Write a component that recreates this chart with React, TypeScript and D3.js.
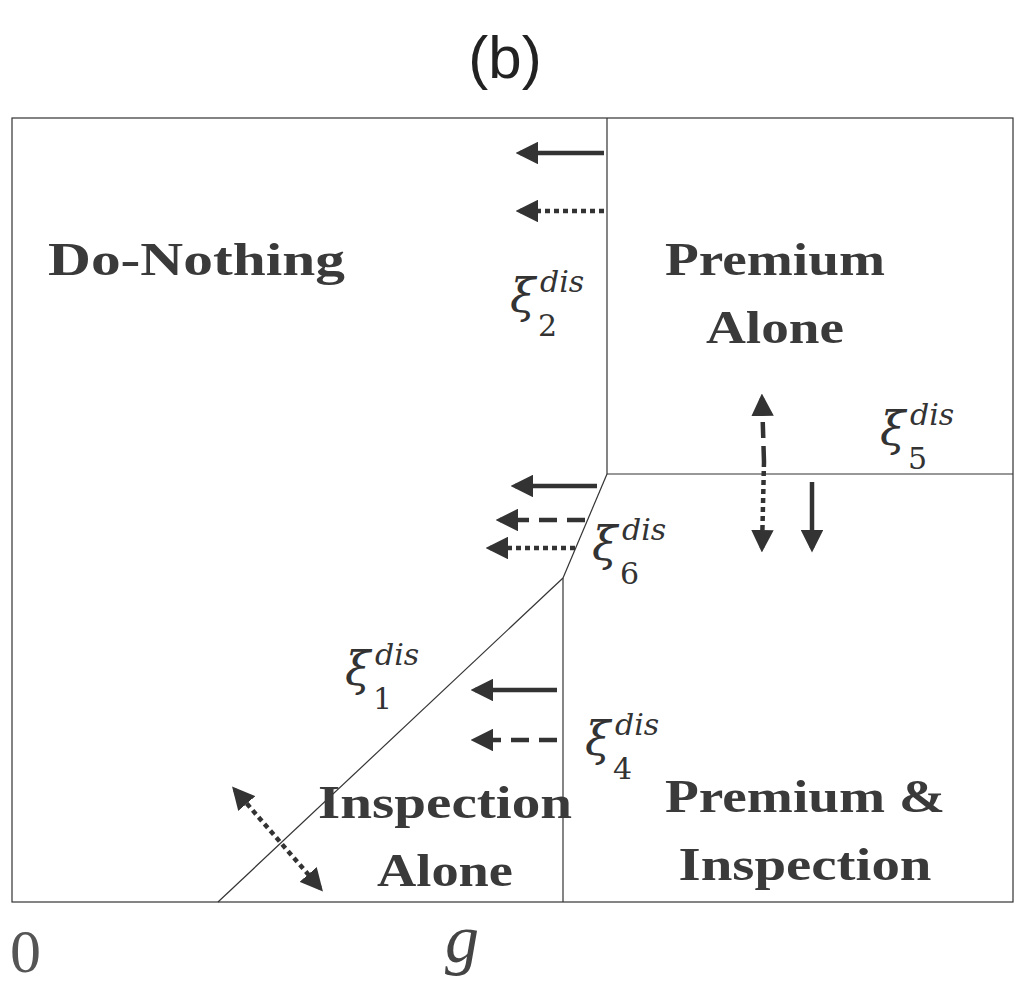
import React from 'react';
import * as d3 from 'd3';

// diagram coordinates: x 0..1001 left to right, y 0..784 bottom to top
const boundaries: [number, number][][] = [
  [[595, 784], [595, 428]],
  [[595, 428], [1001, 428]],
  [[595, 428], [551, 324]],
  [[551, 324], [551, 0]],
  [[551, 324], [206, 0]],
];

type Arrow = { pts: [number, number][]; style: 'solid' | 'dashed' | 'dotted'; both?: boolean };
const arrows: Arrow[] = [
  { pts: [[592, 749], [508, 749]], style: 'solid' },
  { pts: [[592, 691], [508, 691]], style: 'dotted' },
  { pts: [[585, 416], [503, 416]], style: 'solid' },
  { pts: [[573, 382], [488, 382]], style: 'dashed' },
  { pts: [[563, 354], [478, 354]], style: 'dotted' },
  { pts: [[545, 212], [463, 212]], style: 'solid' },
  { pts: [[545, 162], [463, 162]], style: 'dashed' },
  { pts: [[800, 420], [800, 354]], style: 'solid' },
  { pts: [[223, 112], [308, 14]], style: 'dotted', both: true },
];
// split double arrow: dashed upper half, dotted lower half
const splitArrow: [number, number][] = [[750, 504], [752, 440], [750, 354]];

const regionLabels = [
  { lines: ['Do-Nothing'], widths: [297], x: 36, y: 627, anchor: 'start' },
  { lines: ['Premium', 'Alone'], widths: [220, 138], x: 763, y: 627, anchor: 'middle' },
  { lines: ['Inspection', 'Alone'], widths: [254, 136], x: 433, y: 84, anchor: 'middle' },
  { lines: ['Premium &', 'Inspection'], widths: [280, 253], x: 793, y: 90, anchor: 'middle' },
];
const xiLabels = [
  { sub: '2', x: 498, y: 590 },
  { sub: '5', x: 868, y: 457 },
  { sub: '6', x: 580, y: 342 },
  { sub: '1', x: 333, y: 217 },
  { sub: '4', x: 573, y: 147 },
];

const x = d3.scaleLinear().domain([0, 1001]).range([12, 1013]);
const y = d3.scaleLinear().domain([0, 784]).range([902, 118]);
const line = d3.line<[number, number]>().x((d) => x(d[0])).y((d) => y(d[1]));
const dash = { solid: undefined, dashed: '18 10', dotted: '5 4' };
const ink = '#333';

export default function App() {
  return (
    <svg width={1025} height={990} style={{ display: 'block', margin: -8 }}>
      <defs>
        <marker id="ah" viewBox="0 0 10 10" refX="8" refY="5" markerWidth="5" markerHeight="5" orient="auto-start-reverse" markerUnits="strokeWidth">
          <path d="M0,0 L10,5 L0,10 Z" fill={ink} />
        </marker>
      </defs>
      <rect width={1025} height={990} fill="#fff" />
      <text x={505} y={78} textAnchor="middle" fontFamily="Liberation Sans, Arial" fontSize={60} fill="#222">(b)</text>
      <rect x={x(0)} y={y(784)} width={x(1001) - x(0)} height={y(0) - y(784)} fill="none" stroke="#333" strokeWidth={1.2} />
      {boundaries.map((b, i) => (
        <path key={i} d={line(b) || ''} fill="none" stroke="#333" strokeWidth={1.2} />
      ))}
      {arrows.map((a, i) => (
        <path key={i} d={line(a.pts) || ''} fill="none" stroke={ink} strokeWidth={4.5}
          strokeDasharray={dash[a.style]} markerEnd="url(#ah)" markerStart={a.both ? 'url(#ah)' : undefined} />
      ))}
      <path d={line(splitArrow.slice(0, 2)) || ''} fill="none" stroke={ink} strokeWidth={4.5} strokeDasharray="16 8" markerStart="url(#ah)" />
      <path d={line(splitArrow.slice(1)) || ''} fill="none" stroke={ink} strokeWidth={4.5} strokeDasharray="5 4" markerEnd="url(#ah)" />
      {regionLabels.map((r, i) =>
        r.lines.map((l, j) => (
          <text key={`${i}-${j}`} x={x(r.x)} y={y(r.y) + j * 68} textAnchor={r.anchor as any}
            textLength={r.widths[j]} lengthAdjust="spacingAndGlyphs"
            fontFamily="Liberation Serif, serif" fontWeight="bold" fontSize={47} fill="#3a3a3a">
            {l}
          </text>
        ))
      )}
      {xiLabels.map((l, i) => (
        <g key={i} fontFamily="DejaVu Serif, serif" fill="#333">
          <text x={x(l.x)} y={y(l.y)} fontSize={46} fontStyle="italic">ξ</text>
          <text x={x(l.x) + 30} y={y(l.y) - 20} fontSize={30} fontStyle="italic">dis</text>
          <text x={x(l.x) + 28} y={y(l.y) + 24} fontSize={30}>{l.sub}</text>
        </g>
      ))}
      <text x={10} y={972} fontFamily="Liberation Serif, serif" fontSize={62} fill="#555">0</text>
      <text x={445} y={962} fontFamily="Liberation Serif, serif" fontStyle="italic" fontSize={68} fill="#444">g</text>
    </svg>
  );
}
